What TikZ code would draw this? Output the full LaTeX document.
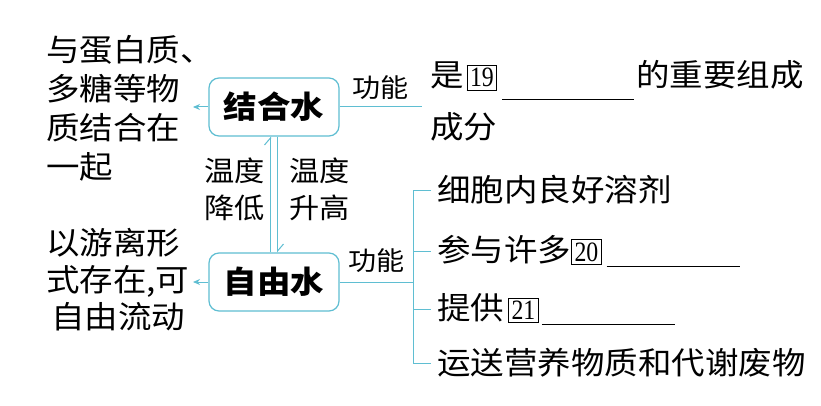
\documentclass[tikz,border=0pt]{standalone}
\usepackage{fontspec}
\usepackage{graphicx}
\setmainfont{Noto Sans CJK SC}[FakeStretch=1.08]
\newfontfamily\numfont{Liberation Serif}
\usetikzlibrary{arrows.meta}
\definecolor{lc}{RGB}{95,190,210}
\newcommand\bnum[1]{{\setlength\fboxsep{2.5pt}\setlength\fboxrule{0.9pt}\fbox{\numfont\fontsize{28}{28}\selectfont\scalebox{0.85}[1]{#1}}}}
\newcommand\blank[2]{\rule[-#2]{#1}{1pt}}
\begin{document}
\begin{tikzpicture}[x=1pt,y=-1pt,
  wbox/.style={draw=lc,line width=1.2pt,rounded corners=10pt,minimum width=130pt,minimum height=58pt,inner sep=0pt,font=\fontsize{31}{31}\selectfont\bfseries},
  txt/.style={inner sep=0pt,anchor=west,align=left,font=\fontsize{31}{38}\selectfont},
  lbl/.style={inner sep=0pt,align=left,font=\fontsize{28}{37}\selectfont},
  fn/.style={inner sep=0pt,font=\fontsize{26}{26}\selectfont},
  ln/.style={draw=lc,line width=1pt},
  arr/.style={ln,-{Stealth[length=7pt,width=6pt]}},
  harp/.style={ln,-{Straight Barb[left,length=7pt,width=12pt]}}]
\useasboundingbox (0,0) rectangle (821,406);
\fill[white] (0,0) rectangle (821,406);

% boxes
\node[wbox] (b) at (274,107) {结合水};
\node[wbox] (f) at (274,282) {自由水};

% left descriptions
\node[txt,font=\fontsize{31}{39}\selectfont] (bt) at (46,108) {与蛋白质、\\多糖等物\\质结合在\\一起};
\node[txt,font=\fontsize{31}{37}\selectfont] (ft) at (46,280) {以游离形\\式存在,可\\\hspace*{5pt}自由流动};
\coordinate (bl) at (193,107);
\coordinate (fl) at (193,282);
\draw[arr] (b.west) -- (bl);
\draw[arr] (f.west) -- (fl);

% conversion arrows
\draw[harp] ([xshift=-3.5pt]f.north) -- ([xshift=-3.5pt]b.south)
  node[midway,left=5pt,lbl,yshift=5pt] (down) {温度\\降低};
\draw[harp] ([xshift=3.5pt]b.south) -- ([xshift=3.5pt]f.north)
  node[midway,right=11pt,lbl,yshift=5pt] (up) {温度\\升高};

% bound water function
\node[txt,font=\fontsize{31}{52}\selectfont] (tt) at (430,101)
  {是\hspace{3pt}\bnum{19}\hspace{5pt}\blank{132pt}{13pt}\hspace{2pt}的重要组成\\成分};
\coordinate (tj) at ([xshift=-8pt]tt.west |- b.east);
\draw[ln] (b.east) -- (tj) node[midway,above=7pt,fn] {功能};

% free water functions
\node[txt] (t1) at (437,190) {细胞内良好溶剂};
\node[txt] (t2) at (437,251) {参与许多\bnum{20}\hspace{5pt}\blank{133pt}{6pt}};
\node[txt] (t3) at (437,309) {提供\hspace{4pt}\bnum{21}\hspace{3pt}\blank{133pt}{5pt}};
\node[txt] (t4) at (437,363) {运送营养物质和代谢废物};
\coordinate (bx) at (413,282);
\draw[ln] (f.east) -- (bx) node[midway,above=9pt,fn] {功能};
\draw[ln] ([xshift=-6pt]t1.west) -- (t1.west -| bx) -- (t4.west -| bx) -- ([xshift=-6pt]t4.west);
\draw[ln] (t2.west -| bx) -- ([xshift=-6pt]t2.west);
\draw[ln] (t3.west -| bx) -- ([xshift=-6pt]t3.west);
\end{tikzpicture}
\end{document}
